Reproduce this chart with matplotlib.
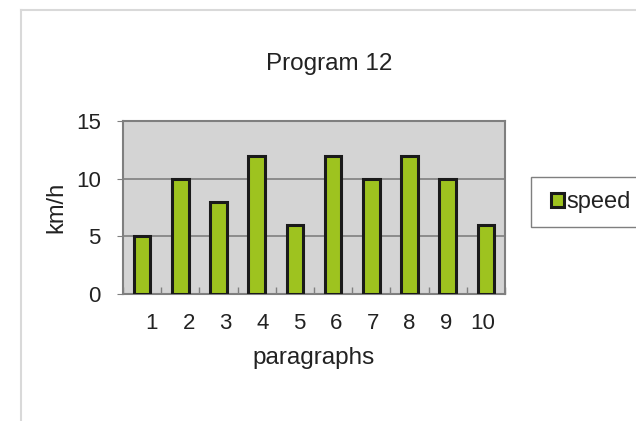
import matplotlib
matplotlib.use('Agg')
import matplotlib.pyplot as plt
import matplotlib.transforms as mtransforms
from matplotlib.lines import Line2D
from matplotlib.patches import Rectangle
import numpy as np

plt.rcParams['font.family'] = ['Liberation Sans', 'DejaVu Sans']

paragraphs = ['1', '2', '3', '4', '5', '6', '7', '8', '9', '10']
speed = [5, 10, 8, 12, 6, 12, 10, 12, 10, 6]

W, H = 636, 421
fig = plt.figure(figsize=(W / 100, H / 100), dpi=100)
fig.patch.set_facecolor('white')

# outer chart frame (left and top edges visible)
fig.add_artist(Line2D([21 / W, 21 / W], [0, 1 - 10 / H], color='#d9d9d9', lw=1.5))
fig.add_artist(Line2D([21 / W, 1], [1 - 10 / H, 1 - 10 / H], color='#d9d9d9', lw=1.5))

ax = fig.add_axes([123 / W, 1 - 294 / H, (505 - 123) / W, (294 - 121) / H])
ax.set_facecolor('#d4d4d4')

x = np.arange(len(paragraphs))
ax.bar(x, speed, width=0.43, color='#9ec31f', edgecolor='#1a1a1a', linewidth=2.2,
       zorder=3, label='speed')

ax.set_xlim(-0.5, len(paragraphs) - 0.5)
ax.set_ylim(0, 15)
ax.set_yticks([0, 5, 10, 15])
ax.yaxis.grid(True, color='#7f7f7f', lw=1.2, zorder=1)
ax.set_axisbelow(True)

ax.set_xticks(x)
ax.set_xticklabels(paragraphs)
ax.set_xticks(np.arange(-0.5, len(paragraphs)), minor=True)
ax.tick_params(axis='x', which='major', length=0, pad=14, labelsize=16, colors='#222222')
ax.tick_params(axis='x', which='minor', direction='in', length=5, color='#7f7f7f', width=1)
ax.tick_params(axis='y', length=4, color='#7f7f7f', pad=12, labelsize=16, labelcolor='#222222')

# category labels sit slightly closer together than the bars in the original
for i, lab in enumerate(ax.get_xticklabels()):
    dx = (9.7 - 1.4 * i) / 100
    lab.set_transform(lab.get_transform() +
                      mtransforms.ScaledTranslation(dx, 0, fig.dpi_scale_trans))

for s in ax.spines.values():
    s.set_color('#7f7f7f')
    s.set_linewidth(1.5)

ax.set_title('Program 12', fontsize=17.5, color='#222222', pad=37, x=(329 - 123) / 382)
ax.set_xlabel('paragraphs', fontsize=17.5, color='#222222', labelpad=9)
ax.set_ylabel('km/h', fontsize=17, color='#222222', labelpad=6)

# legend box (runs off the right edge like the original)
fig.add_artist(Rectangle((531 / W, 1 - 227 / H), 120 / W, 50 / H,
                         transform=fig.transFigure, facecolor='white',
                         edgecolor='#7f7f7f', lw=1))
leg = fig.legend(loc='center left', bbox_to_anchor=(551 / W, 1 - 202 / H),
                 fontsize=17, frameon=False, handlelength=0.55, handleheight=0.55,
                 handletextpad=0.1, borderpad=0, borderaxespad=0)
for t in leg.get_texts():
    t.set_color('#222222')

fig.savefig('out.png', dpi=100)
